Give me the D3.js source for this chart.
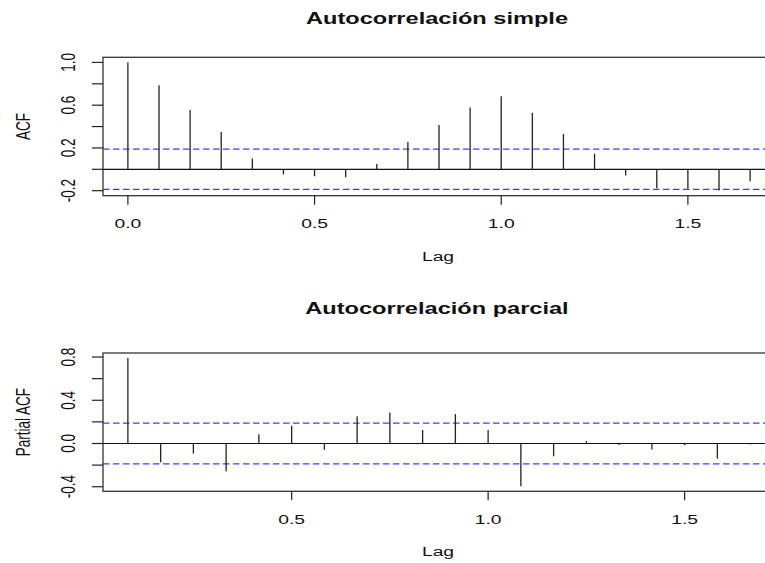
<!DOCTYPE html>
<html>
<head>
<meta charset="utf-8">
<script src="https://cdn.jsdelivr.net/npm/d3@7"></script>
<style>
  body { margin: 0; background: #fff; }
  svg { display: block; }
  text { font-family: "Liberation Sans", Arial, sans-serif; fill: #111; }
</style>
</head>
<body>
<div id="chart"></div>
<script>
// monthly series, lags expressed in years (lag / 12)
const freq = 12;
const acfLags = [0, 1, 2, 3, 4, 5, 6, 7, 8, 9, 10, 11, 12, 13, 14, 15, 16, 17, 18, 19, 20];
const acfValues = [1.0, 0.787, 0.554, 0.349, 0.10, -0.049, -0.065, -0.075, 0.05, 0.255, 0.414,
  0.578, 0.684, 0.528, 0.33, 0.146, -0.059, -0.177, -0.183, -0.199, -0.112];

const pacfLags = [1, 2, 3, 4, 5, 6, 7, 8, 9, 10, 11, 12, 13, 14, 15, 16, 17, 18, 19, 20];
const pacfValues = [0.79, -0.174, -0.092, -0.257, 0.085, 0.165, -0.058, 0.253, 0.287, 0.125,
  0.272, 0.125, -0.395, -0.119, 0.021, -0.013, -0.055, -0.016, -0.141, -0.01];

const ciBound = 0.1886; // 1.96 / sqrt(n)

const acfTicksY = [-0.2, 0.0, 0.2, 0.4, 0.6, 0.8, 1.0];
const acfLabelsY = [-0.2, 0.2, 0.6, 1.0];
const acfTicksX = [0.0, 0.5, 1.0, 1.5];
const pacfTicksY = [-0.4, -0.2, 0.0, 0.2, 0.4, 0.6, 0.8];
const pacfLabelsY = [-0.4, 0.0, 0.4, 0.8];
const pacfTicksX = [0.5, 1.0, 1.5];

const W = 765, H = 563;
const SX = 1.43; // text is stretched horizontally

const svg = d3.select("#chart").append("svg")
  .attr("width", W)
  .attr("height", H);

// text helper, stretched in x like the rest of the device output
function label(x, y, txt, opts = {}) {
  const g = svg.append("g")
    .attr("transform", `translate(${x},${y}) scale(${SX},1)` + (opts.rotate ? " rotate(-90)" : ""));
  g.append("text")
    .attr("text-anchor", "middle")
    .style("font-size", (opts.size || 13.5) + "px")
    .style("font-weight", opts.bold ? "bold" : "normal")
    .text(txt);
}

// R-style range padding (4%)
function pad(lo, hi) {
  const d = (hi - lo) * 0.04;
  return [lo - d, hi + d];
}

function corrPanel(cfg) {
  const lags = cfg.lags.map((l) => l / freq);
  const vals = cfg.values;
  const yMin = Math.min(d3.min(vals), -ciBound);
  const yMax = Math.max(d3.max(vals), ciBound);

  const x = d3.scaleLinear()
    .domain(pad(d3.min(lags), d3.max(lags)))
    .range([103, 775]);
  const y = d3.scaleLinear()
    .domain(pad(yMin, yMax))
    .range([cfg.bottom, cfg.top]);

  const [x0, x1] = x.range();
  const [yb, yt] = y.range();

  // clip area for the plot region
  const clipId = "clip-" + cfg.id;
  svg.append("clipPath").attr("id", clipId)
    .append("rect")
    .attr("x", x0).attr("y", yt)
    .attr("width", x1 - x0).attr("height", yb - yt);

  const plot = svg.append("g").attr("clip-path", `url(#${clipId})`);

  // confidence bounds
  [ciBound, -ciBound].forEach((b) => {
    plot.append("line")
      .attr("x1", x0).attr("x2", x1)
      .attr("y1", y(b)).attr("y2", y(b))
      .attr("stroke", "#3c3cff")
      .attr("stroke-width", 1.2)
      .attr("stroke-dasharray", "6.5,3.5");
  });

  // zero line
  plot.append("line")
    .attr("x1", x0).attr("x2", x1)
    .attr("y1", y(0)).attr("y2", y(0))
    .attr("stroke", "#111")
    .attr("stroke-width", 1.2);

  // stems
  plot.selectAll("line.stem")
    .data(vals)
    .join("line")
    .attr("class", "stem")
    .attr("x1", (d, i) => x(lags[i]))
    .attr("x2", (d, i) => x(lags[i]))
    .attr("y1", y(0))
    .attr("y2", (d) => y(d))
    .attr("stroke", "#222")
    .attr("stroke-width", 1.3);

  // box
  svg.append("rect")
    .attr("x", x0).attr("y", yt)
    .attr("width", x1 - x0).attr("height", yb - yt)
    .attr("fill", "none")
    .attr("stroke", "#333")
    .attr("stroke-width", 1.3);

  // y axis ticks and labels
  cfg.ticksY.forEach((t) => {
    svg.append("line")
      .attr("x1", x0 - 11).attr("x2", x0)
      .attr("y1", y(t)).attr("y2", y(t))
      .attr("stroke", "#222").attr("stroke-width", 1.2);
  });
  cfg.labelsY.forEach((t) => {
    label(75, y(t), d3.format(".1f")(t).replace("−", "-"), { rotate: true });
  });

  // x axis ticks and labels
  cfg.ticksX.forEach((t) => {
    svg.append("line")
      .attr("x1", x(t)).attr("x2", x(t))
      .attr("y1", yb).attr("y2", yb + 9)
      .attr("stroke", "#222").attr("stroke-width", 1.2);
    label(x(t), yb + 32.5, d3.format(".1f")(t));
  });

  // axis titles and main title
  label((x0 + 775) / 2 - 1, yb + 65, "Lag");
  label(30, (yt + yb) / 2, cfg.yTitle, { rotate: true });
  label((x0 + x1) / 2 - 2, cfg.titleY, cfg.title, { size: 16.5, bold: true });
}

corrPanel({
  id: "acf",
  lags: acfLags,
  values: acfValues,
  top: 57.3,
  bottom: 195.7,
  ticksY: acfTicksY,
  labelsY: acfLabelsY,
  ticksX: acfTicksX,
  yTitle: "ACF",
  title: "Autocorrelación simple",
  titleY: 24
});

corrPanel({
  id: "pacf",
  lags: pacfLags,
  values: pacfValues,
  top: 353,
  bottom: 491.3,
  ticksY: pacfTicksY,
  labelsY: pacfLabelsY,
  ticksX: pacfTicksX,
  yTitle: "Partial ACF",
  title: "Autocorrelación parcial",
  titleY: 314
});
</script>
</body>
</html>
